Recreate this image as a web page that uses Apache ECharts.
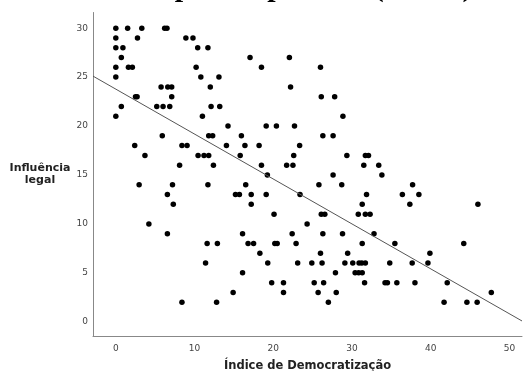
<!DOCTYPE html>
<html>
<head>
<meta charset="utf-8">
<script src="https://cdn.jsdelivr.net/npm/echarts@6/dist/echarts.min.js"></script>
<style>
  html, body { margin: 0; padding: 0; background: #fff; }
  #chart { width: 523px; height: 371px; }
</style>
</head>
<body>
<div id="chart"></div>
<script>
// influência legal (valores inteiros) e os índices de democratização lidos em cada nível
var niveisInfluencia = [30, 29, 28, 27, 26, 25, 24, 23, 22, 21, 20, 19, 18, 17, 16, 15, 14, 13, 12, 11, 10, 9, 8, 7, 6, 5, 4, 3, 2]
var indicePorNivel = [
  [0, 1.5, 3.3, 6.2, 6.5],
  [0, 2.75, 8.9, 9.8],
  [0, 0.9, 10.4, 11.7],
  [0.7, 17.05, 22.05],
  [0, 1.6, 2.1, 10.2, 18.5, 26.0],
  [0, 10.8, 13.1],
  [5.75, 6.6, 7.1, 12.0, 22.2],
  [2.5, 2.7, 7.1, 26.1, 27.8],
  [0.7, 5.2, 6.0, 6.85, 12.1, 13.2],
  [0, 11.0, 28.85],
  [14.25, 19.1, 20.4, 22.7],
  [5.9, 11.8, 12.3, 15.95, 26.3, 27.6],
  [2.4, 8.4, 9.05, 14.05, 16.4, 18.2, 23.35],
  [3.7, 10.45, 11.2, 11.8, 15.8, 22.6, 29.35, 31.7, 32.1],
  [8.1, 12.4, 18.5, 21.7, 22.5, 31.5, 33.4],
  [19.25, 27.6, 33.8],
  [2.96, 7.2, 11.7, 16.5, 25.8, 28.7, 37.7],
  [6.55, 15.2, 15.7, 17.2, 19.1, 23.4, 31.85, 36.4, 38.5],
  [7.3, 17.2, 31.3, 37.35, 46.0],
  [20.1, 26.1, 26.55, 30.8, 31.7, 32.3],
  [4.2, 24.3],
  [6.55, 16.1, 22.4, 26.3, 28.8, 32.8],
  [11.6, 12.9, 16.8, 17.5, 20.2, 20.5, 22.9, 31.3, 35.45, 44.2],
  [18.3, 26.0, 29.45, 39.9],
  [11.4, 19.3, 23.1, 24.9, 26.2, 29.1, 30.1, 30.9, 31.25, 31.7, 34.8, 37.65, 39.65],
  [16.1, 27.9, 30.4, 30.85, 31.3],
  [19.8, 21.3, 25.2, 26.4, 31.6, 34.2, 34.5, 35.7, 38.0, 42.1],
  [14.9, 21.3, 25.7, 28.0, 47.7],
  [8.4, 12.8, 27.0, 41.7, 44.6, 45.9],
]
var ticksX = [0, 10, 20, 30, 40, 50]
var ticksY = [0, 5, 10, 15, 20, 25, 30]
// reta de ajuste
var intercepto = 23.77
var inclinacao = -0.459

var xMin = -2.9, xMax = 51.6
var yMin = -1.45, yMax = 31.6

var pontos = []
niveisInfluencia.forEach(function (y, i) {
  indicePorNivel[i].forEach(function (x) {
    pontos.push([x, y])
  })
})
var reta = [[xMin, intercepto + inclinacao * xMin], [xMax, intercepto + inclinacao * xMax]]

var chart = echarts.init(document.getElementById('chart'))
var rotulo = {
  color: '#444',
  fontSize: 9,
  fontFamily: 'DejaVu Sans',
}
var option = {
  animation: false,
  title: {
    text: 'Dispersão por ano (n=150)',
    left: 128,
    top: -32,
    textStyle: {
      fontFamily: 'Liberation Serif',
      fontWeight: 'bold',
      fontSize: 30,
      lineHeight: 30,
      color: '#000',
    },
  },
  grid: { left: 93, right: 1, top: 12.5, bottom: 35, outerBoundsMode: 'none' },
  xAxis: {
    type: 'value',
    min: xMin,
    max: xMax,
    name: 'Índice de Democratização',
    nameLocation: 'middle',
    nameGap: 24,
    nameTextStyle: { fontFamily: 'DejaVu Sans', fontWeight: 'bold', fontSize: 11.5, color: '#222' },
    splitLine: { show: false },
    axisTick: { show: false },
    axisLine: { onZero: false, lineStyle: { color: '#888', width: 1 } },
    axisLabel: Object.assign({}, rotulo, { margin: 8, customValues: ticksX }),
  },
  yAxis: {
    type: 'value',
    min: yMin,
    max: yMax,
    name: 'Influência\nlegal',
    nameLocation: 'middle',
    nameRotate: 0,
    nameGap: 53,
    nameTextStyle: { fontFamily: 'DejaVu Sans', fontWeight: 'bold', fontSize: 11, color: '#222', align: 'center', lineHeight: 12 },
    splitLine: { show: false },
    axisTick: { show: false },
    axisLine: { onZero: false, lineStyle: { color: '#888', width: 1 } },
    axisLabel: Object.assign({}, rotulo, { margin: 5, customValues: ticksY }),
  },
  series: [
    {
      type: 'scatter',
      data: pontos,
      symbol: 'circle',
      symbolSize: 5.5,
      itemStyle: { color: '#000', opacity: 1 },
    },
    {
      type: 'line',
      data: reta,
      symbol: 'none',
      silent: true,
      lineStyle: { color: '#555', width: 1 },
    },
  ],
}
chart.setOption(option)
</script>
</body>
</html>
